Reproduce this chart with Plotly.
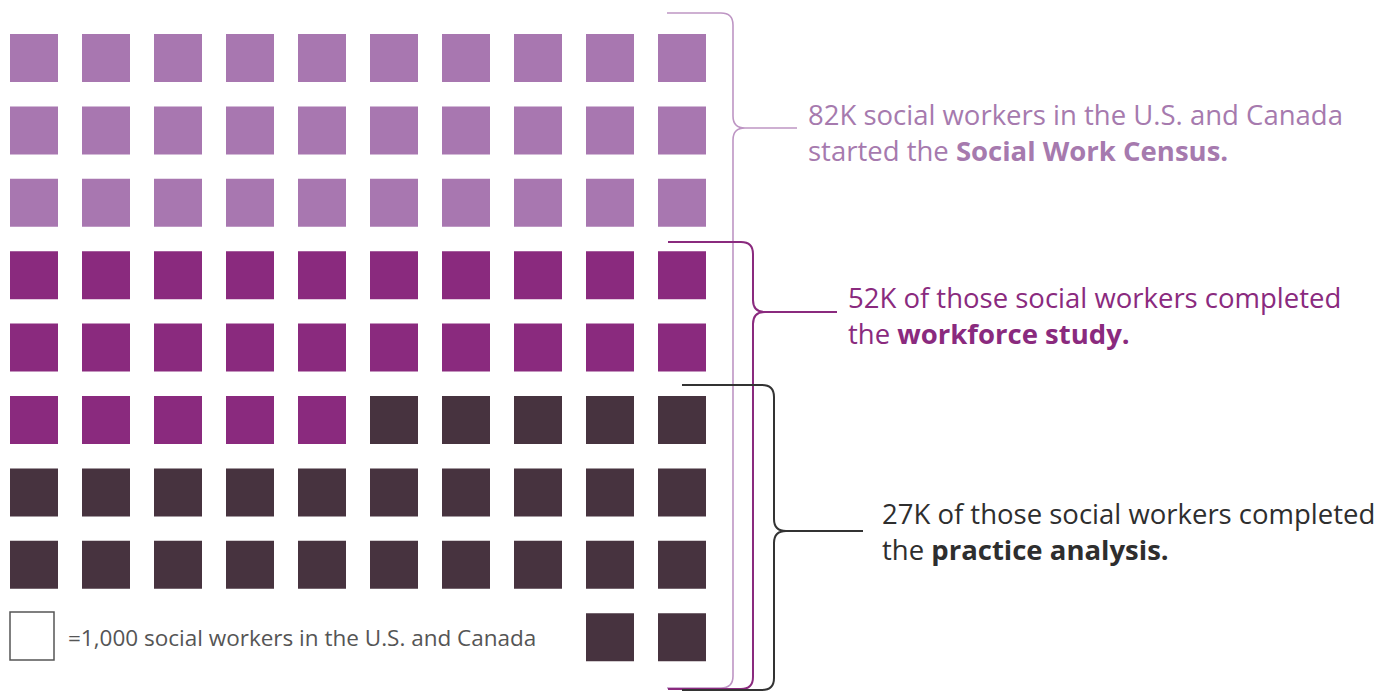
import plotly.graph_objects as go

# ---- data ----
group_labels = ["Started the Social Work Census",
                "Completed the workforce study",
                "Completed the practice analysis"]
cumulative_thousands = [82, 52, 27]          # 1 square = 1,000 social workers
group_colors = ["#A877B0", "#8A2A7E", "#47333F"]
n_cols = 10
n_rows = 9
legend_cells = 8                             # first cells of last row hold the key

# page offset (browser body margin) compensation
OFF = 8
W, H = 1392 - OFF, 692 - OFF

x0_px, dx_px = 34, 72.0      # centre of first column / spacing (reference px)
y0_px, dy_px = 58, 72.4      # centre of first row / spacing (reference px)

# available grid cells, row-major, minus the key area
cells = [c for c in range(n_rows * n_cols)
         if not ((c // n_cols) == n_rows - 1 and (c % n_cols) < legend_cells)]
cells = cells[::-1]          # fill backwards from bottom-right

xs, ys, cs, texts = [], [], [], []
for k in range(cumulative_thousands[0]):
    row, col = divmod(cells[k], n_cols)
    if k < cumulative_thousands[2]:
        g = 2
    elif k < cumulative_thousands[1]:
        g = 1
    else:
        g = 0
    xs.append(col)
    ys.append(row)
    cs.append(group_colors[g])
    texts.append(group_labels[g])

fig = go.Figure()
fig.add_trace(go.Scatter(
    x=xs, y=ys, mode="markers", text=texts, hoverinfo="text",
    marker=dict(symbol="square", size=48, color=cs, line=dict(width=0)),
    showlegend=False,
))


def px(x):
    return (x - OFF) / W


def py(y):
    return 1 - (y - OFF) / H


def brace_path(xl, yt, yb, xv, ytip, xtip, r=12):
    pts = [
        ("M", [(xl, yt)]),
        ("L", [(xv - r, yt)]),
        ("Q", [(xv, yt), (xv, yt + r)]),
        ("L", [(xv, ytip - r)]),
        ("Q", [(xv, ytip), (xv + r, ytip)]),
        ("L", [(xtip, ytip)]),
        ("M", [(xv + r, ytip)]),
        ("Q", [(xv, ytip), (xv, ytip + r)]),
        ("L", [(xv, yb - r)]),
        ("Q", [(xv, yb), (xv - r, yb)]),
        ("L", [(xl, yb)]),
    ]
    out = []
    for cmd, ps in pts:
        out.append(cmd + " " + " ".join(f"{px(a):.5f},{py(b):.5f}" for a, b in ps))
    return " ".join(out)


braces = [
    dict(xl=667, yt=13, yb=688, xv=733, ytip=128, xtip=797, color="#BE96C4", width=1.6),
    dict(xl=668, yt=242, yb=689, xv=753, ytip=312, xtip=837, color="#8A2A7E", width=2),
    dict(xl=682, yt=385, yb=690, xv=774, ytip=531, xtip=863, color="#333333", width=2),
]
shapes = []
for b in braces:
    shapes.append(dict(type="path", xref="paper", yref="paper",
                       path=brace_path(b["xl"], b["yt"], b["yb"], b["xv"], b["ytip"], b["xtip"]),
                       line=dict(color=b["color"], width=b["width"])))

# legend key square
shapes.append(dict(type="rect", xref="paper", yref="paper",
                   x0=px(10), x1=px(54), y0=py(660), y1=py(612),
                   line=dict(color="#555555", width=1.5), fillcolor="white"))

FONT = "Open Sans"
annotations = [
    dict(x=px(806), y=py(133),
         text="82K social workers in the U.S. and Canada<br>started the <b>Social Work Census.</b>",
         color="#A67AAE"),
    dict(x=px(846), y=py(316),
         text="52K of those social workers completed<br>the <b>workforce study.</b>",
         color="#8A2A7E"),
    dict(x=px(880), y=py(531),
         text="27K of those social workers completed<br>the <b>practice analysis.</b>",
         color="#2E2E2E"),
]
ann = []
for a in annotations:
    ann.append(dict(x=a["x"], y=a["y"], xref="paper", yref="paper",
                    xanchor="left", yanchor="middle", align="left",
                    showarrow=False, text=a["text"],
                    font=dict(family=FONT, size=27.5, color=a["color"])))
ann.append(dict(x=px(66), y=py(637), xref="paper", yref="paper",
                xanchor="left", yanchor="middle", showarrow=False,
                text="=1,000 social workers in the U.S. and Canada",
                font=dict(family=FONT, size=22.5, color="#555555")))

fig.update_layout(
    width=W, height=H,
    margin=dict(l=0, r=0, t=0, b=0),
    paper_bgcolor="white", plot_bgcolor="white",
    xaxis=dict(range=[(OFF - x0_px) / dx_px, (W + OFF - x0_px) / dx_px],
               visible=False, fixedrange=True),
    yaxis=dict(range=[(H + OFF - y0_px) / dy_px, (OFF - y0_px) / dy_px],
               visible=False, fixedrange=True),
    shapes=shapes, annotations=ann,
    font=dict(family=FONT),
)

fig.write_html("out.html")
